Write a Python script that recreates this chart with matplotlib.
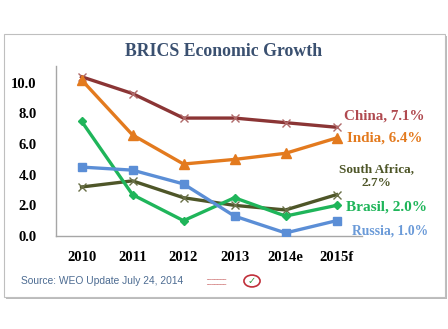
import matplotlib
matplotlib.use("Agg")
import matplotlib.pyplot as plt
import matplotlib.patches as mpatches

years = ["2010", "2011", "2012", "2013", "2014e", "2015f"]
china = [10.4, 9.3, 7.7, 7.7, 7.4, 7.1]
india = [10.2, 6.6, 4.7, 5.0, 5.4, 6.4]
brasil = [7.5, 2.7, 1.0, 2.5, 1.3, 2.0]
russia = [4.5, 4.3, 3.4, 1.3, 0.2, 1.0]
safrica = [3.2, 3.6, 2.5, 2.0, 1.7, 2.7]
yticks = [0.0, 2.0, 4.0, 6.0, 8.0, 10.0]

SERIF = ["Liberation Serif", "DejaVu Serif"]

fig = plt.figure(figsize=(4.48, 3.29), dpi=100)
fig.patch.set_facecolor("white")

# cadre avec ombre
shadow = mpatches.Rectangle((6 / 448, 1 - 299 / 329), 441 / 448, 263 / 329,
                            transform=fig.transFigure, facecolor="#BBBBBB",
                            edgecolor="none", zorder=0)
frame = mpatches.Rectangle((4 / 448, 1 - 297 / 329), 441 / 448, 263 / 329,
                           transform=fig.transFigure, facecolor="white",
                           edgecolor="#BFBFBF", lw=0.8, zorder=0.5)
fig.patches.extend([shadow, frame])

ax = fig.add_axes([56 / 448, 1 - 236 / 329, 306 / 448, 170 / 329])
ax.set_zorder(2)
ax.set_facecolor("none")
x = list(range(len(years)))

series = [
    (china, "#8B3535", "x", "#B06A6A", 6),
    (india, "#E37A1E", "^", "#E37A1E", 6.5),
    (safrica, "#4E5628", "x", "#6A7048", 6),
    (brasil, "#1FB55A", "D", "#1FB55A", 4.5),
    (russia, "#5B8ED6", "s", "#5B8ED6", 6),
]
for vals, col, mk, mcol, ms in series:
    ax.plot(x, vals, color=col, lw=2.4, marker=mk, ms=ms, mew=1.0,
            markeredgecolor=mcol, markerfacecolor=mcol, zorder=3)

ax.set_xlim(-0.5, 5.5)
ax.set_ylim(0, 11.1)
ax.set_yticks(yticks)
ax.set_yticklabels([f"{v:.1f}" for v in yticks], family=SERIF,
                   fontweight="bold", fontsize=10.5)
ax.set_xticks(x)
ax.set_xticklabels(years, family=SERIF, fontweight="bold", fontsize=10.5)
ax.tick_params(length=0, pad=11)
ax.tick_params(axis="y", pad=14)
for s in ["top", "right"]:
    ax.spines[s].set_visible(False)
for s in ["left", "bottom"]:
    ax.spines[s].set_color("#A6A6A6")
    ax.spines[s].set_linewidth(1.0)

fig.text(0.5, 1 - 51 / 329, "BRICS Economic Growth", ha="center", va="center",
         family=SERIF, fontweight="bold", fontsize=12.8, color="#3A5070")

lab_kw = dict(transform=fig.transFigure, family=SERIF, fontweight="bold",
              zorder=5)
fig.text(384 / 448, 1 - 116 / 329, "China, 7.1%", ha="center", va="center",
         color="#B04A50", fontsize=10.8, **lab_kw)
fig.text(385 / 448, 1 - 138 / 329, "India, 6.4%", ha="center", va="center",
         color="#E37A1E", fontsize=10.8, **lab_kw)
fig.text(376 / 448, 1 - 176 / 329, "South Africa,\n2.7%", ha="center",
         va="center", color="#4E5628", fontsize=9.5, linespacing=1.25, **lab_kw)
fig.text(386 / 448, 1 - 207 / 329, "Brasil, 2.0%", ha="center", va="center",
         color="#1FB55A", fontsize=11, **lab_kw)
fig.text(390 / 448, 1 - 231 / 329, "Russia, 1.0%", ha="center", va="center",
         color="#6A9AD8", fontsize=9.8, **lab_kw)

fig.text(21 / 448, 1 - 281 / 329, "Source: WEO Update July 24, 2014",
         ha="left", va="center", fontsize=7.4, color="#4D6C92",
         family=["Liberation Sans"], zorder=5)
logo = mpatches.Circle((252 / 448, 1 - 281 / 329), 0.018,
                       transform=fig.transFigure, facecolor="white",
                       edgecolor="#C0303A", lw=1.2, zorder=3)
fig.patches.append(logo)
fig.text(252 / 448, 1 - 281 / 329, "✓", ha="center", va="center",
         fontsize=7, color="#2E9A40", fontweight="bold", zorder=5)
fig.text(216 / 448, 1 - 281 / 329, "━━━━━━━\n━━━━━━━", ha="center",
         va="center", fontsize=3.5, color="#D89090", linespacing=1.0, zorder=5)

fig.savefig("out.png", dpi=100)
